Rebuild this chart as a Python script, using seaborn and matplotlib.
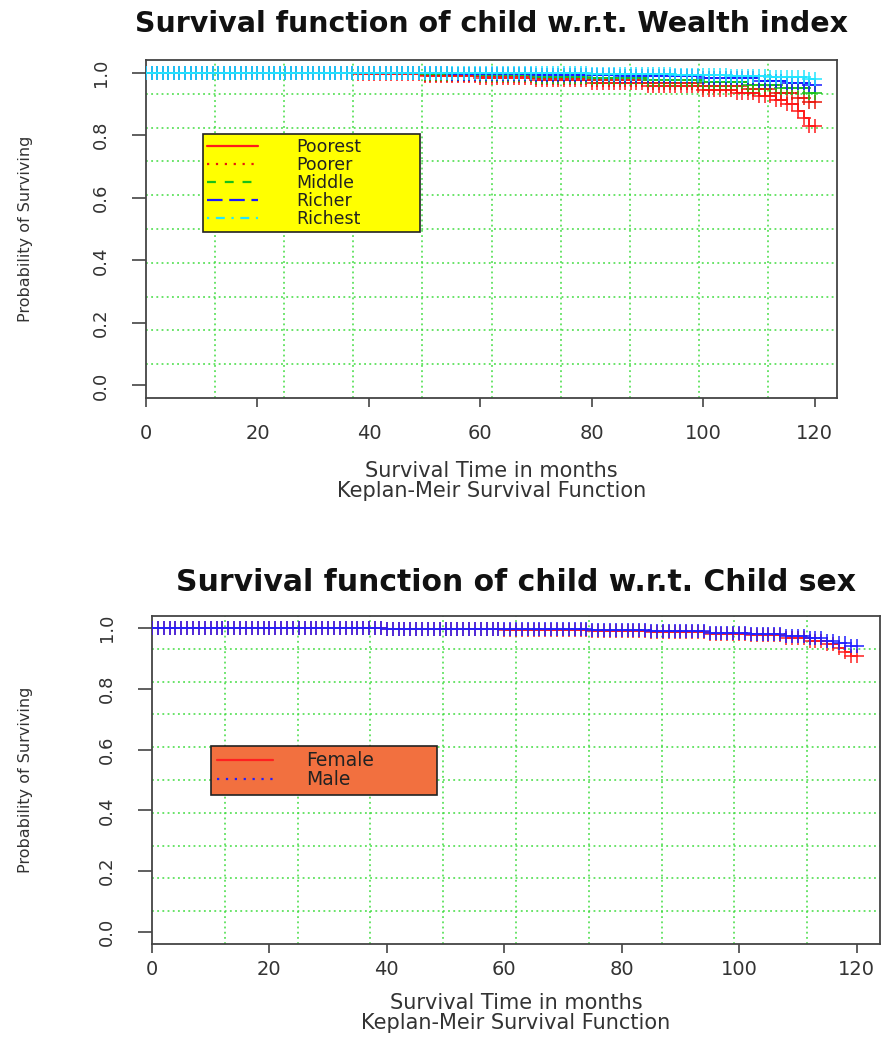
import numpy as np
import pandas as pd
import matplotlib
matplotlib.use("Agg")
import matplotlib.pyplot as plt
import seaborn as sns
from matplotlib.lines import Line2D

sns.set_style("white")
plt.rcParams['font.family'] = ['DejaVu Sans']

# ---------------- data ----------------
# censoring marks: one per month of follow-up
mark_months = list(range(0, 121))

# Top panel: Kaplan-Meier step knots by wealth index
wealth_groups = ["Poorest", "Poorer", "Middle", "Richer", "Richest"]
poorest_t = [0, 38, 50, 60, 70, 80, 90, 100, 106, 110, 113, 115, 117, 118, 119]
poorest_s = [1.0, 0.996, 0.990, 0.982, 0.975, 0.966, 0.957, 0.945, 0.935, 0.924, 0.912, 0.898, 0.878, 0.855, 0.828]
poorer_t = [0, 38, 50, 60, 70, 80, 90, 100, 108, 113, 117, 119]
poorer_s = [1.0, 0.997, 0.993, 0.988, 0.982, 0.975, 0.967, 0.958, 0.947, 0.935, 0.920, 0.905]
middle_t = [0, 38, 50, 60, 70, 80, 90, 100, 108, 114, 119]
middle_s = [1.0, 0.998, 0.995, 0.991, 0.987, 0.982, 0.976, 0.969, 0.960, 0.950, 0.935]
richer_t = [0, 38, 55, 70, 85, 100, 110, 115, 119]
richer_s = [1.0, 0.998, 0.996, 0.993, 0.988, 0.981, 0.974, 0.968, 0.960]
richest_t = [0, 60, 80, 95, 105, 112, 119]
richest_s = [1.0, 0.998, 0.996, 0.993, 0.990, 0.986, 0.980]

# Bottom panel: Kaplan-Meier step knots by child sex
sex_groups = ["Female", "Male"]
female_t = [0, 40, 60, 75, 85, 95, 102, 108, 112, 115, 117, 118, 119]
female_s = [1.0, 0.998, 0.995, 0.991, 0.987, 0.982, 0.976, 0.968, 0.959, 0.948, 0.935, 0.922, 0.908]
male_t = [0, 40, 60, 75, 85, 95, 102, 108, 112, 115, 117, 119]
male_s = [1.0, 0.998, 0.996, 0.993, 0.990, 0.985, 0.980, 0.973, 0.966, 0.958, 0.950, 0.940]

x_ticks = [0, 20, 40, 60, 80, 100, 120]
y_ticks = [0.0, 0.2, 0.4, 0.6, 0.8, 1.0]

# ---------------- styling ----------------
wealth_colors = ["#ff1a1a", "#e8180c", "#18c018", "#1a1aff", "#22e6ff"]
wealth_ls = ["-", (0, (1, 3)), (0, (4, 4)), (0, (7, 3)), (0, (1, 3, 4, 3))]
sex_colors = ["#ff2020", "#1f1fff"]
sex_ls = ["-", (0, (1, 3))]


def km_frames(names, knots):
    line_rows, mark_rows = [], []
    for name, (t, s) in zip(names, knots):
        t = list(t) + [mark_months[-1]]
        s = list(s) + [s[-1]]
        for ti, si in zip(t, s):
            line_rows.append((name, ti, si))
        tt = np.array(t[:-1])
        ss = np.array(s[:-1])
        for m in mark_months:
            idx = np.searchsorted(tt, m, side="right") - 1
            mark_rows.append((name, m, ss[idx]))
    cols = ["group", "time", "surv"]
    return pd.DataFrame(line_rows, columns=cols), pd.DataFrame(mark_rows, columns=cols)


def style_axes(ax, xlim, ylim, xpad):
    ax.set_xlim(*xlim)
    ax.set_ylim(*ylim)
    ax.set_xticks(x_ticks)
    ax.set_yticks(y_ticks)
    ax.set_yticklabels([f"{v:.1f}" for v in y_ticks])
    for sp in ax.spines.values():
        sp.set_visible(True)
        sp.set_color("#444444")
        sp.set_linewidth(1.3)
    ax.tick_params(axis="x", direction="out", length=6.5, width=1.2, pad=xpad,
                   labelsize=14, colors="#444444", labelcolor="#333333", bottom=True)
    ax.tick_params(axis="y", direction="out", length=10, width=1.2, pad=16,
                   labelsize=13, colors="#444444", labelcolor="#333333", left=True,
                   labelrotation=90)
    for lab in ax.get_yticklabels():
        lab.set_va("center")
    # R-style grid(): 10 equal cells across the plot region
    gcol = "#40dc40"
    for gx in np.linspace(xlim[0], xlim[1], 11)[1:-1]:
        ax.axvline(gx, color=gcol, lw=1.1, ls=(0, (1.2, 2.2)), zorder=0.5)
    for gy in np.linspace(ylim[0], ylim[1], 11)[1:-1]:
        ax.axhline(gy, color=gcol, lw=1.1, ls=(0, (1.2, 2.2)), zorder=0.5)


def draw_km(ax, names, lines, marks, colors, styles):
    for name, c, ls in zip(names, colors, styles):
        sns.lineplot(data=lines[lines.group == name], x="time", y="surv",
                     drawstyle="steps-post", estimator=None, sort=False,
                     color=c, linestyle=ls, lw=1.4, ax=ax, legend=False)
        sns.scatterplot(data=marks[marks.group == name], x="time", y="surv",
                        marker="+", s=110, color=c, linewidth=1.1, ax=ax,
                        legend=False, zorder=3)


fig = plt.figure(figsize=(8.83, 10.48), dpi=100)

# ---------------- top panel ----------------
ax1 = fig.add_axes([146 / 883, 1 - 398 / 1048, 691 / 883, 338 / 1048])
xl = (0, 124)
yl = (-0.04, 1.04)
style_axes(ax1, xl, yl, 12)
lines1, marks1 = km_frames(wealth_groups, [(poorest_t, poorest_s), (poorer_t, poorer_s),
                                           (middle_t, middle_s), (richer_t, richer_s),
                                           (richest_t, richest_s)])
draw_km(ax1, wealth_groups, lines1, marks1, wealth_colors, wealth_ls)
ax1.set_title("Survival function of child w.r.t. Wealth index", fontsize=20.5,
              fontweight="bold", color="#111111", pad=20)
ax1.set_xlabel("Survival Time in months\nKeplan-Meir Survival Function", fontsize=15,
               color="#333333", linespacing=1.0, va="top")
ax1.xaxis.set_label_coords(0.5, -0.185)
ax1.set_ylabel("Probability of Surviving", fontsize=11.5, color="#333333", va="center")
ax1.yaxis.set_label_coords(-0.175, 0.5)
h1 = [Line2D([0], [0], color=c, ls=ls, lw=1.6) for c, ls in zip(wealth_colors, wealth_ls)]
leg1 = ax1.legend(h1, wealth_groups, loc="upper left",
                  bbox_to_anchor=((203 - 146) / 691, 1 - (137 - 60) / 338, 217 / 691, 0.01),
                  mode="expand", facecolor="#ffff00", edgecolor="#222222", framealpha=1,
                  fancybox=False, fontsize=12.5, handlelength=2.9, handletextpad=2.2,
                  labelspacing=0.0, borderpad=0.25, borderaxespad=0)
leg1.get_frame().set_linewidth(1.2)
for t in leg1.get_texts():
    t.set_color("#222222")

# ---------------- bottom panel ----------------
ax2 = fig.add_axes([152 / 883, 1 - 944 / 1048, 728 / 883, 328 / 1048])
style_axes(ax2, xl, yl, 5)
lines2, marks2 = km_frames(sex_groups, [(female_t, female_s), (male_t, male_s)])
draw_km(ax2, sex_groups, lines2, marks2, sex_colors, sex_ls)
ax2.set_title("Survival function of child w.r.t. Child sex", fontsize=21.5,
              fontweight="bold", color="#111111", pad=18)
ax2.set_xlabel("Survival Time in months\nKeplan-Meir Survival Function", fontsize=15,
               color="#333333", linespacing=1.0, va="top")
ax2.xaxis.set_label_coords(0.5, -0.15)
ax2.set_ylabel("Probability of Surviving", fontsize=11.5, color="#333333", va="center")
ax2.yaxis.set_label_coords(-0.174, 0.5)
h2 = [Line2D([0], [0], color=c, ls=ls, lw=1.6) for c, ls in zip(sex_colors, sex_ls)]
leg2 = ax2.legend(h2, sex_groups, loc="upper left",
                  bbox_to_anchor=((211 - 152) / 728, 1 - (749 - 616) / 328, 226 / 728, 0.01),
                  mode="expand", facecolor="#f2703f", edgecolor="#222222", framealpha=1,
                  fancybox=False, fontsize=13.5, handlelength=3.0, handletextpad=1.8,
                  labelspacing=0.0, borderpad=0.3, borderaxespad=0)
leg2.get_frame().set_linewidth(1.2)
for t in leg2.get_texts():
    t.set_color("#222222")

fig.savefig("out.png", dpi=100)
